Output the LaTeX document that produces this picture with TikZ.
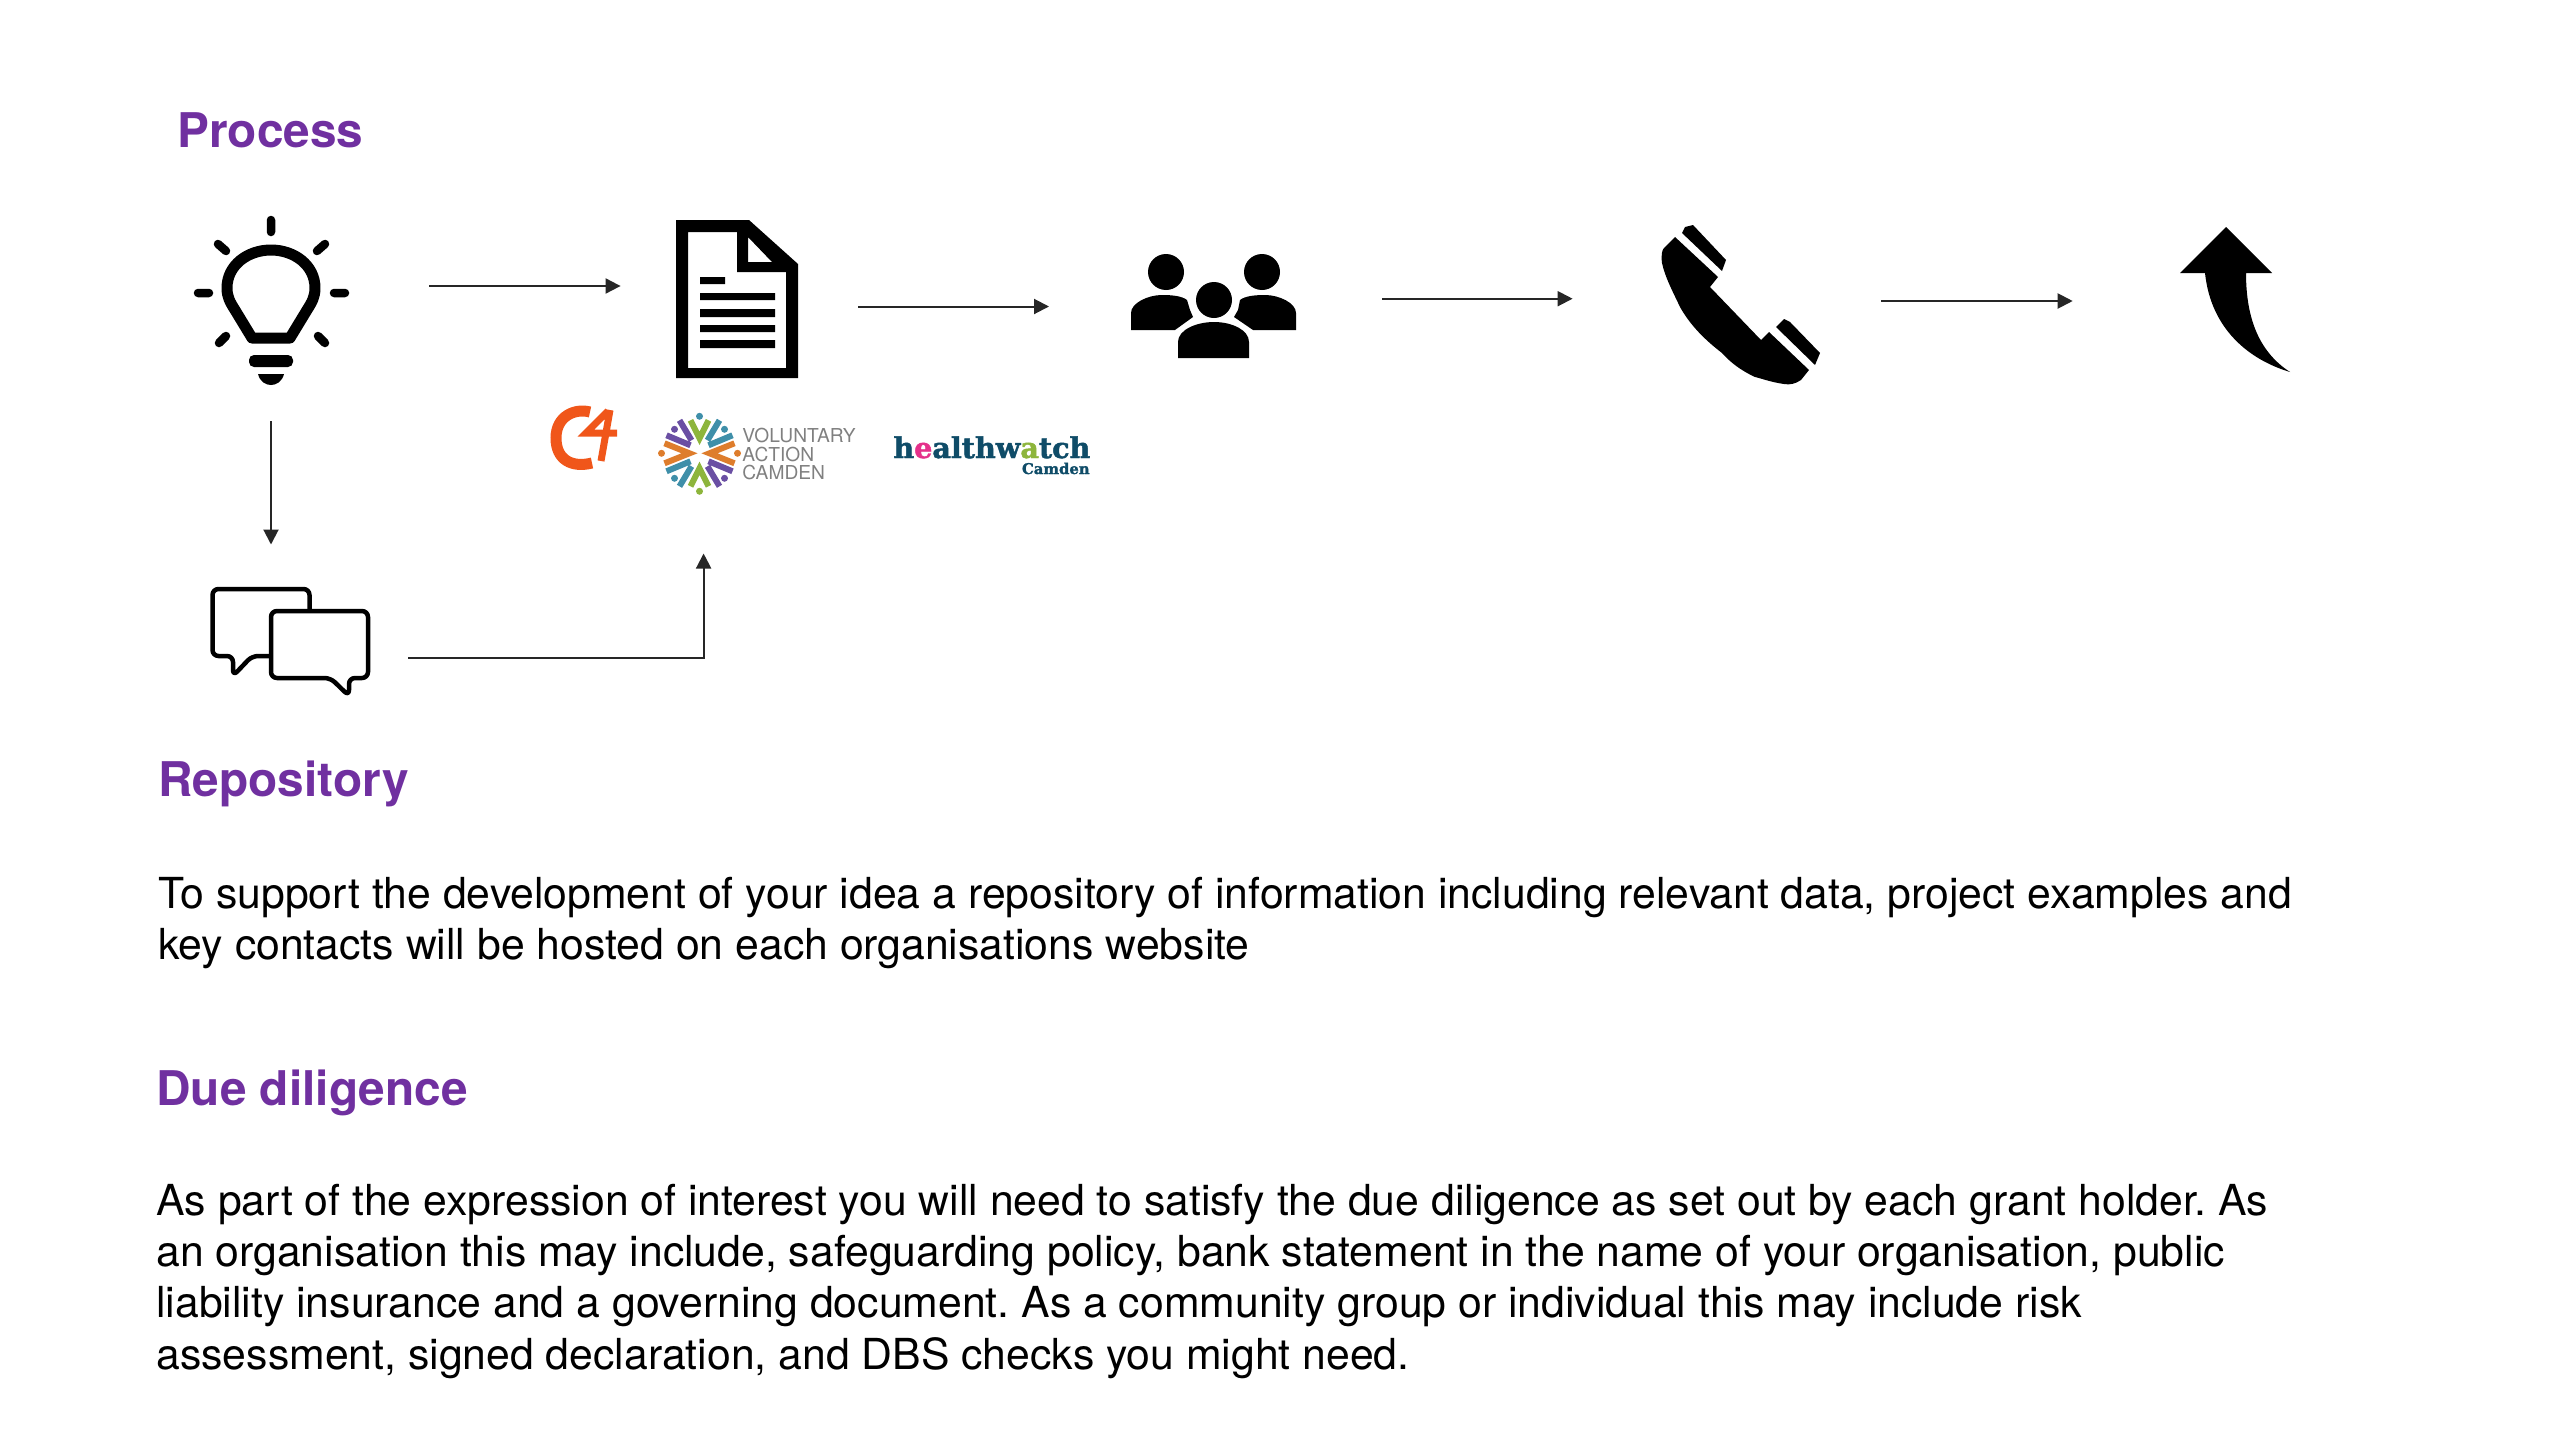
\documentclass[tikz,border=0pt]{standalone}
\usepackage{fontspec}
\usepackage{tikz}
\usetikzlibrary{arrows.meta,positioning,calc}
\setmainfont{TeX Gyre Heros}
\newfontfamily\hwfont[BoldFeatures={FakeBold=1.6}]{DejaVu Serif}
\definecolor{headpurple}{HTML}{7030A0}
\definecolor{vacpurple}{HTML}{6A4FA3}
\definecolor{vacblue}{HTML}{3F8FA9}
\definecolor{vacgreen}{HTML}{8DB53C}
\definecolor{vacorange}{HTML}{DE7D2C}
\definecolor{hwblue}{HTML}{0F4C68}
\definecolor{hwpink}{HTML}{E5318B}
\definecolor{cfourred}{HTML}{F0561A}
\frenchspacing

\begin{document}
\begin{tikzpicture}[x=0.5pt,y=-0.5pt,>={Triangle[length=7.5pt,width=7.5pt]}]
  \tikzstyle{icon}=[inner sep=0pt,outer sep=0pt]
  \tikzstyle{head}=[anchor=base west,inner sep=0pt,text=headpurple,font=\bfseries\fontsize{23.9}{28}\selectfont]
  \tikzstyle{para}=[anchor=north west,inner sep=0pt,align=left,font=\fontsize{21.37}{25.65}\selectfont]
  \tikzstyle{link}=[->,line width=1pt,black!85]
  \tikzstyle{vactext}=[anchor=base west,inner sep=0pt,text=black!50,font=\fontsize{9.6}{10}\selectfont]

  \useasboundingbox (0,0) rectangle (2560,1440);

  \begin{scope}
    % headings and text
    \node [head] (process) at (177,147) {Process};
    \node [head] (repo) at (158,796.5) {Repository};
    \node [para] (repotext) [below=40pt of repo.base west,anchor=north west] {To support the development of your idea a repository of information including relevant data, project examples and\\key contacts will be hosted on each organisations website};
    \node [head] (due) at (156,1105.5) {Due diligence};
    \node [para] (duetext) [below=39pt of due.base west,anchor=north west] {As part of the expression of interest you will need to satisfy the due diligence as set out by each grant holder. As\\an organisation this may include, safeguarding policy, bank statement in the name of your organisation, public\\liability insurance and a governing document. As a community group or individual this may include risk\\assessment, signed declaration, and DBS checks you might need.};

    % icon boxes
    \node [icon,minimum width=78pt,minimum height=85pt] (bulb) at (271,300) {};
    \node [icon,minimum width=61pt,minimum height=79pt] (doc) at (737,299) {};
    \node [icon,minimum width=83pt,minimum height=39pt] (people) at (1213,312) {};
    \node [icon,minimum width=79pt,minimum height=80pt] (phone) at (1741,304) {};
    \node [icon,minimum width=56pt,minimum height=73pt] (curved) at (2235,299) {};
    \node [icon,minimum width=78pt,minimum height=54pt] (chat) at (290,642) {};
  \end{scope}

  \begin{scope}
    % bulb
    \draw [line width=5.5pt,line join=round] (252,338) -- (235,310) .. controls (230,302) and (227,297) .. (227,288) .. controls (227,265) and (248,250) .. (271,250) .. controls (294,250) and (315,265) .. (315,288) .. controls (315,297) and (312,302) .. (307,310) -- (290,338) -- cycle;
    \draw [line width=4.25pt,line cap=round] (271,220) -- (271,232) (198,293) -- (209,293) (334,293) -- (345,293) (218,244) -- (226,251) (325,244) -- (317,251) (226,336) -- (219,343) (318,336) -- (325,343);
    \fill [rounded corners=2.5pt] (249,355) rectangle (293,367);
    \fill (258,374) -- (284,374) .. controls (282,382) and (276,385) .. (271,385) .. controls (266,385) and (260,382) .. (258,374) -- cycle;

    % document
    \fill [even odd rule] (676,220) -- (749,220) -- (798,264) -- (798,378) -- (676,378) -- cycle
      (688,232) -- (737,232) -- (737,272) -- (786,272) -- (786,368) -- (688,368) -- cycle
      (748,237) -- (772,262) -- (748,262) -- cycle;
    \fill (700,277) rectangle (725,284) (700,293) rectangle (775,300) (700,309) rectangle (775,317) (700,325) rectangle (775,332) (700,340) rectangle (775,348);

    % people
    \fill (1166,272) circle [radius=18] (1262,272) circle [radius=18] (1214,300) circle [radius=18];
    \fill (1131,330) -- (1131,313) .. controls (1131,303) and (1148,295) .. (1162,295) .. controls (1172,295) and (1182,296) .. (1187,300) -- (1190,310) -- (1193,317) -- (1175,330) -- cycle;
    \fill (1296,330) -- (1296,313) .. controls (1296,303) and (1279,295) .. (1265,295) .. controls (1255,295) and (1245,296) .. (1240,300) -- (1238,310) -- (1234,317) -- (1253,330) -- cycle;
    \fill (1178,358) -- (1178,342) .. controls (1178,330) and (1196,322) .. (1214,322) .. controls (1232,322) and (1249,330) .. (1249,342) -- (1249,358) -- cycle;

    % phone
    \fill (1675,237) -- (1718,277) -- (1710,287) -- (1761,340) -- (1769,332) -- (1809,370) -- (1801,380) .. controls (1795,384) and (1790,385) .. (1784,384) .. controls (1770,382) and (1760,378) .. (1755,377) .. controls (1740,370) and (1730,362) .. (1722,353) .. controls (1705,340) and (1690,325) .. (1680,307) .. controls (1672,290) and (1665,277) .. (1662,263) .. controls (1661,255) and (1662,250) .. (1664,248) -- cycle;
    \fill (1682,233) -- (1685,227) -- (1693,225) -- (1726,260) -- (1722,271) -- cycle;
    \fill (1776,327) -- (1784,319) -- (1790,322) -- (1820,353) -- (1815,365) -- cycle;

    % curved arrow
    \fill (2226,227) -- (2272,273) -- (2246,273) .. controls (2246,313) and (2256,350) .. (2290,372) .. controls (2250,360) and (2211,330) .. (2205,273) -- (2180,273) -- cycle;

    % chat
    \draw [line width=2.25pt,rounded corners=3pt,line join=round] (271,656) -- (252,656) -- (233,676) -- (233,656) -- (212.5,656) -- (212.5,589) -- (309.5,589) -- (309.5,611);
    \draw [line width=2.25pt,rounded corners=3pt,line join=round] (271,611) -- (368,611) -- (368,678) -- (349,678) -- (349,696) -- (330.5,678) -- (271,678) -- cycle;
  \end{scope}

  \begin{scope}
    % arrows
    \path [link] ([shift={(80,-14)}]bulb.east) edge ([shift={(-55.4,-13)}]doc.west);
    \path [link] ([shift={(60,7.5)}]doc.east) edge ([shift={(-81,-5.5)}]people.west);
    \path [link] ([shift={(86,-13.3)}]people.east) edge ([shift={(-89.4,-5.3)}]phone.west);
    \path [link] ([shift={(61,-3)}]phone.east) edge ([shift={(-106.3,2)}]curved.west);
    \path [link] ([shift={(0,36)}]bulb.south) edge ([shift={(-19,-43.5)}]chat.north);
    \draw [link] ([shift={(40,16)}]chat.east) -| ([shift={(-33.4,175.5)}]doc.south);
  \end{scope}

  \begin{scope}
    % c4 logo
    \draw [cfourred,line width=5.5pt] (590,412) .. controls (575,408) and (556,416) .. (556,438) .. controls (556,460) and (572,468) .. (592,463);
    \draw [cfourred,line width=3.5pt,line join=miter] (608,411) -- (586,433) -- (617,433) (610,410) -- (601,461);

    % voluntary action camden logo
    \begin{scope}[shift={(699.5,453.3)},line width=3pt]
      \draw [vacgreen] (-9,-33) -- (0,-15) -- (9,-33) (-9,33) -- (0,15) -- (9,33);
      \draw [vacorange] (35,-10) -- (10,0) -- (35,10) (-35,-10) -- (-10,0) -- (-35,10);
      \draw [vacpurple] (-33,-18) -- (-9,-8) (-20,-33) -- (-8,-13) (33,18) -- (9,8) (20,33) -- (8,13);
      \draw [vacblue] (33,-18) -- (9,-8) (20,-33) -- (8,-13) (-33,18) -- (-9,8) (-20,33) -- (-8,13);
      \fill [vacpurple] (-25,-24) circle [radius=3.5] (25,25) circle [radius=3.5];
      \fill [vacblue] (25,-24) circle [radius=3.5] (-25,25) circle [radius=3.5] (0,-37) circle [radius=3.5];
      \fill [vacorange] (-38,0) circle [radius=3.5] (38,0) circle [radius=3.5];
      \fill [vacgreen] (0,38) circle [radius=3.5];
    \end{scope}
    \node [vactext] (vaca) at (742,442) {VOLUNTARY};
    \node [vactext] (vacb) at (742,461) {ACTION};
    \node [vactext] (vacc) at (742,479) {CAMDEN};

    % healthwatch logo
    \node [anchor=base west,inner sep=0pt,text=hwblue,font=\hwfont\bfseries\fontsize{14.3}{15}\selectfont] (hwname) at (893,458) {h\textcolor{hwpink}{e}althw\textcolor{vacgreen}{a}tch};
    \node [anchor=base east,inner sep=0pt,text=hwblue,font=\hwfont\bfseries\fontsize{7.4}{8}\selectfont] (hwcamden) at (1090,474) {Camden};
  \end{scope}
\end{tikzpicture}
\end{document}
